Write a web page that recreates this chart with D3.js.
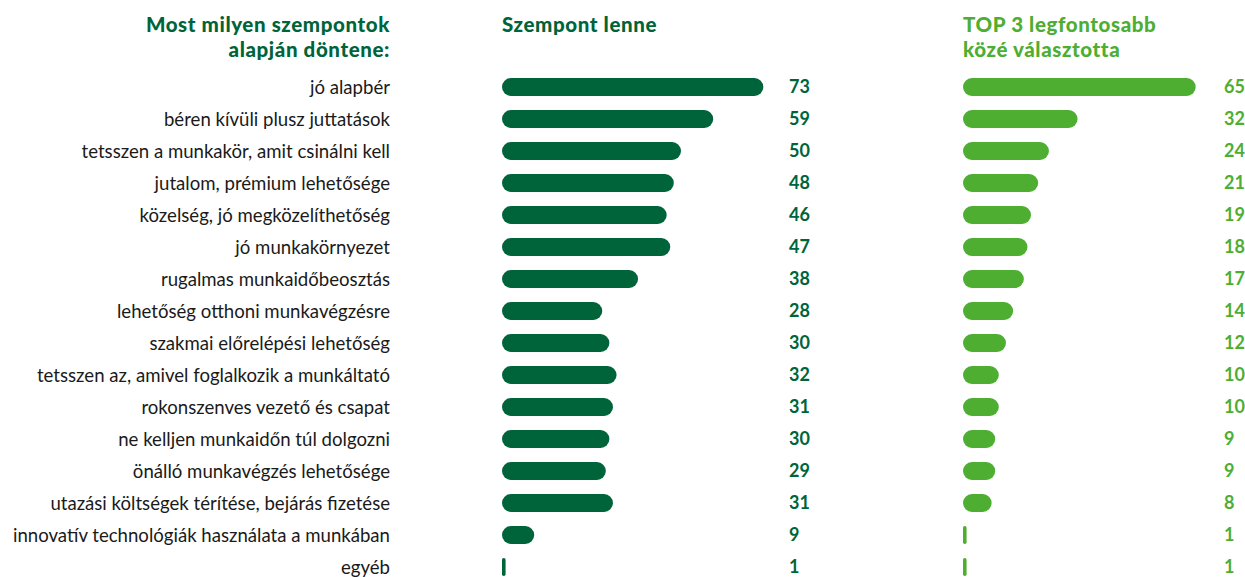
<!DOCTYPE html>
<html>
<head>
<meta charset="utf-8">
<script src="https://cdn.jsdelivr.net/npm/d3@7"></script>
<style>
  body { margin: 0; background: #fff; }
  svg { display: block; }
</style>
</head>
<body>
<svg id="chart"></svg>
<script>
// categories and the two series (percent)
const categories = [
    "jó alapbér",
    "béren kívüli plusz juttatások",
    "tetsszen a munkakör, amit csinálni kell",
    "jutalom, prémium lehetősége",
    "közelség, jó megközelíthetőség",
    "jó munkakörnyezet",
    "rugalmas munkaidőbeosztás",
    "lehetőség otthoni munkavégzésre",
    "szakmai előrelépési lehetőség",
    "tetsszen az, amivel foglalkozik a munkáltató",
    "rokonszenves vezető és csapat",
    "ne kelljen munkaidőn túl dolgozni",
    "önálló munkavégzés lehetősége",
    "utazási költségek térítése, bejárás fizetése",
    "innovatív technológiák használata a munkában",
    "egyéb"
];
const szempont = [73, 59, 50, 48, 46, 47, 38, 28, 30, 32, 31, 30, 29, 31, 9, 1];
const top3 = [65, 32, 24, 21, 19, 18, 17, 14, 12, 10, 10, 9, 9, 8, 1, 1];

const W = 1245, H = 577;
const dark = "#00643a", light = "#4eae31";
const titleFont = "Lato, 'Open Sans', sans-serif";

const svg = d3.select("#chart").attr("width", W).attr("height", H);

const y = d3.scaleBand().domain(categories).range([71, 583]).paddingInner(0.44).paddingOuter(0.22);
const x = d3.scaleLinear().domain([0, 100]).range([0, 358]);

// headers
const hdr = svg.append("g").style("font-family", titleFont).style("font-weight", 900)
    .style("font-size", "20.5px").style("letter-spacing", "0.6px");
hdr.append("text").attr("x", 390).attr("y", 32).attr("text-anchor", "end").attr("fill", dark).text("Most milyen szempontok");
hdr.append("text").attr("x", 390).attr("y", 57).attr("text-anchor", "end").attr("fill", dark).text("alapján döntene:");
hdr.append("text").attr("x", 502).attr("y", 32).attr("fill", dark).text("Szempont lenne");
hdr.append("text").attr("x", 963).attr("y", 32).attr("fill", light).text("TOP 3 legfontosabb");
hdr.append("text").attr("x", 963).attr("y", 57).attr("fill", light).text("közé választotta");

// category labels
svg.append("g").selectAll("text").data(categories).join("text")
    .attr("x", 390)
    .attr("y", d => y(d) + y.bandwidth() / 2)
    .attr("dy", "0.35em")
    .attr("text-anchor", "end")
    .style("font-family", "Lato, sans-serif")
    .style("font-size", "18.6px")
    .style("fill", "#1a1a1a")
    .text(d => d);

function column(values, x0, labelX, color) {
    const g = svg.append("g");
    const h = y.bandwidth();
    g.selectAll("rect").data(values).join("rect")
        .attr("x", x0)
        .attr("y", (d, i) => y(categories[i]))
        .attr("width", d => Math.max(x(d), 3))
        .attr("height", h)
        .attr("rx", d => Math.min(h / 2, Math.max(x(d), 3) / 2))
        .attr("fill", color);
    g.selectAll("text").data(values).join("text")
        .attr("x", labelX)
        .attr("y", (d, i) => y(categories[i]) + h / 2)
        .attr("dy", "0.35em")
        .style("font-family", titleFont)
        .style("font-weight", 700)
        .style("font-size", "18px")
        .style("fill", color)
        .text(d => d);
}

column(szempont, 502, 789, dark);
column(top3, 963, 1224, light);
</script>
</body>
</html>
